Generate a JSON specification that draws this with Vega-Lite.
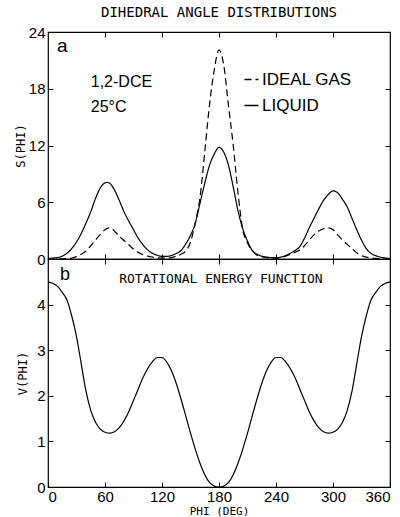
{
  "$schema": "https://vega.github.io/schema/vega-lite/v6.json",
  "padding": {"left": 13, "top": 5, "right": 10, "bottom": 0},
  "spacing": 0,
  "bounds": "flush",
  "background": "white",
  "config": {
    "view": {"stroke": "black", "strokeWidth": 1.2},
    "axis": {"domain": false, "grid": false, "tickColor": "black", "tickSize": -5, "tickWidth": 1, "labelColor": "black", "labelFont": "Liberation Sans", "labelFontSize": 15, "labelPadding": 8, "titleColor": "black", "titleFont": "DejaVu Sans Mono", "titleFontSize": 12, "titleFontWeight": "normal"},
    "text": {"color": "black"}
  },
  "datasets": {
    "s": [
      {"phi": 0, "S": 0.05, "series": "LIQUID"}, {"phi": 5, "S": 0.1, "series": "LIQUID"}, {"phi": 10, "S": 0.15, "series": "LIQUID"}, {"phi": 15, "S": 0.3, "series": "LIQUID"}, {"phi": 20, "S": 0.6, "series": "LIQUID"}, {"phi": 25, "S": 1.1, "series": "LIQUID"}, {"phi": 30, "S": 1.8, "series": "LIQUID"}, {"phi": 35, "S": 2.7, "series": "LIQUID"}, {"phi": 40, "S": 3.8, "series": "LIQUID"}, {"phi": 45, "S": 5.0, "series": "LIQUID"}, {"phi": 50, "S": 6.4, "series": "LIQUID"}, {"phi": 55, "S": 7.5, "series": "LIQUID"}, {"phi": 60, "S": 8.05, "series": "LIQUID"}, {"phi": 62, "S": 8.1, "series": "LIQUID"}, {"phi": 65, "S": 8.0, "series": "LIQUID"}, {"phi": 70, "S": 7.3, "series": "LIQUID"}, {"phi": 75, "S": 6.2, "series": "LIQUID"}, {"phi": 80, "S": 5.0, "series": "LIQUID"}, {"phi": 85, "S": 4.0, "series": "LIQUID"}, {"phi": 90, "S": 3.1, "series": "LIQUID"}, {"phi": 95, "S": 2.2, "series": "LIQUID"}, {"phi": 100, "S": 1.5, "series": "LIQUID"}, {"phi": 105, "S": 0.95, "series": "LIQUID"}, {"phi": 110, "S": 0.6, "series": "LIQUID"}, {"phi": 115, "S": 0.4, "series": "LIQUID"}, {"phi": 120, "S": 0.28, "series": "LIQUID"}, {"phi": 125, "S": 0.28, "series": "LIQUID"}, {"phi": 130, "S": 0.38, "series": "LIQUID"}, {"phi": 135, "S": 0.58, "series": "LIQUID"}, {"phi": 140, "S": 0.9, "series": "LIQUID"}, {"phi": 145, "S": 1.6, "series": "LIQUID"}, {"phi": 150, "S": 2.5, "series": "LIQUID"}, {"phi": 155, "S": 3.8, "series": "LIQUID"}, {"phi": 160, "S": 5.9, "series": "LIQUID"}, {"phi": 165, "S": 8.0, "series": "LIQUID"}, {"phi": 170, "S": 9.9, "series": "LIQUID"}, {"phi": 175, "S": 11.1, "series": "LIQUID"}, {"phi": 180, "S": 11.8, "series": "LIQUID"}, {"phi": 185, "S": 11.3, "series": "LIQUID"}, {"phi": 190, "S": 9.9, "series": "LIQUID"}, {"phi": 195, "S": 7.6, "series": "LIQUID"}, {"phi": 200, "S": 5.1, "series": "LIQUID"}, {"phi": 205, "S": 3.2, "series": "LIQUID"}, {"phi": 210, "S": 1.9, "series": "LIQUID"}, {"phi": 215, "S": 0.9, "series": "LIQUID"}, {"phi": 220, "S": 0.5, "series": "LIQUID"}, {"phi": 225, "S": 0.3, "series": "LIQUID"}, {"phi": 230, "S": 0.2, "series": "LIQUID"}, {"phi": 235, "S": 0.15, "series": "LIQUID"}, {"phi": 240, "S": 0.12, "series": "LIQUID"}, {"phi": 245, "S": 0.2, "series": "LIQUID"}, {"phi": 250, "S": 0.35, "series": "LIQUID"}, {"phi": 255, "S": 0.6, "series": "LIQUID"}, {"phi": 260, "S": 0.9, "series": "LIQUID"}, {"phi": 265, "S": 1.3, "series": "LIQUID"}, {"phi": 270, "S": 2.2, "series": "LIQUID"}, {"phi": 275, "S": 3.3, "series": "LIQUID"}, {"phi": 280, "S": 4.3, "series": "LIQUID"}, {"phi": 285, "S": 5.3, "series": "LIQUID"}, {"phi": 290, "S": 6.2, "series": "LIQUID"}, {"phi": 295, "S": 6.8, "series": "LIQUID"}, {"phi": 300, "S": 7.2, "series": "LIQUID"}, {"phi": 305, "S": 7.0, "series": "LIQUID"}, {"phi": 310, "S": 6.3, "series": "LIQUID"}, {"phi": 315, "S": 5.5, "series": "LIQUID"}, {"phi": 320, "S": 4.3, "series": "LIQUID"}, {"phi": 325, "S": 3.1, "series": "LIQUID"}, {"phi": 330, "S": 2.0, "series": "LIQUID"}, {"phi": 335, "S": 1.1, "series": "LIQUID"}, {"phi": 340, "S": 0.6, "series": "LIQUID"}, {"phi": 345, "S": 0.35, "series": "LIQUID"}, {"phi": 350, "S": 0.2, "series": "LIQUID"}, {"phi": 355, "S": 0.1, "series": "LIQUID"}, {"phi": 360, "S": 0.05, "series": "LIQUID"},
      {"phi": 0, "S": 0, "series": "IDEAL GAS"}, {"phi": 10, "S": 0, "series": "IDEAL GAS"}, {"phi": 20, "S": 0.05, "series": "IDEAL GAS"}, {"phi": 25, "S": 0.1, "series": "IDEAL GAS"}, {"phi": 30, "S": 0.25, "series": "IDEAL GAS"}, {"phi": 35, "S": 0.5, "series": "IDEAL GAS"}, {"phi": 40, "S": 0.85, "series": "IDEAL GAS"}, {"phi": 45, "S": 1.4, "series": "IDEAL GAS"}, {"phi": 50, "S": 2.0, "series": "IDEAL GAS"}, {"phi": 55, "S": 2.6, "series": "IDEAL GAS"}, {"phi": 60, "S": 3.1, "series": "IDEAL GAS"}, {"phi": 64, "S": 3.3, "series": "IDEAL GAS"}, {"phi": 67, "S": 3.25, "series": "IDEAL GAS"}, {"phi": 70, "S": 2.95, "series": "IDEAL GAS"}, {"phi": 75, "S": 2.4, "series": "IDEAL GAS"}, {"phi": 80, "S": 1.95, "series": "IDEAL GAS"}, {"phi": 85, "S": 1.5, "series": "IDEAL GAS"}, {"phi": 90, "S": 1.05, "series": "IDEAL GAS"}, {"phi": 95, "S": 0.7, "series": "IDEAL GAS"}, {"phi": 100, "S": 0.45, "series": "IDEAL GAS"}, {"phi": 105, "S": 0.3, "series": "IDEAL GAS"}, {"phi": 110, "S": 0.2, "series": "IDEAL GAS"}, {"phi": 115, "S": 0.12, "series": "IDEAL GAS"}, {"phi": 120, "S": 0.1, "series": "IDEAL GAS"}, {"phi": 125, "S": 0.1, "series": "IDEAL GAS"}, {"phi": 130, "S": 0.15, "series": "IDEAL GAS"}, {"phi": 135, "S": 0.3, "series": "IDEAL GAS"}, {"phi": 140, "S": 0.5, "series": "IDEAL GAS"}, {"phi": 145, "S": 0.85, "series": "IDEAL GAS"}, {"phi": 150, "S": 1.8, "series": "IDEAL GAS"}, {"phi": 155, "S": 3.8, "series": "IDEAL GAS"}, {"phi": 160, "S": 6.5, "series": "IDEAL GAS"}, {"phi": 165, "S": 11.3, "series": "IDEAL GAS"}, {"phi": 170, "S": 16.3, "series": "IDEAL GAS"}, {"phi": 175, "S": 20.0, "series": "IDEAL GAS"}, {"phi": 180, "S": 22.1, "series": "IDEAL GAS"}, {"phi": 185, "S": 20.5, "series": "IDEAL GAS"}, {"phi": 190, "S": 16.2, "series": "IDEAL GAS"}, {"phi": 195, "S": 12.0, "series": "IDEAL GAS"}, {"phi": 200, "S": 7.0, "series": "IDEAL GAS"}, {"phi": 205, "S": 3.1, "series": "IDEAL GAS"}, {"phi": 210, "S": 1.7, "series": "IDEAL GAS"}, {"phi": 215, "S": 0.9, "series": "IDEAL GAS"}, {"phi": 220, "S": 0.4, "series": "IDEAL GAS"}, {"phi": 225, "S": 0.25, "series": "IDEAL GAS"}, {"phi": 230, "S": 0.15, "series": "IDEAL GAS"}, {"phi": 235, "S": 0.1, "series": "IDEAL GAS"}, {"phi": 240, "S": 0.1, "series": "IDEAL GAS"}, {"phi": 245, "S": 0.15, "series": "IDEAL GAS"}, {"phi": 250, "S": 0.3, "series": "IDEAL GAS"}, {"phi": 255, "S": 0.5, "series": "IDEAL GAS"}, {"phi": 260, "S": 0.7, "series": "IDEAL GAS"}, {"phi": 265, "S": 0.95, "series": "IDEAL GAS"}, {"phi": 270, "S": 1.4, "series": "IDEAL GAS"}, {"phi": 275, "S": 2.0, "series": "IDEAL GAS"}, {"phi": 280, "S": 2.55, "series": "IDEAL GAS"}, {"phi": 285, "S": 2.95, "series": "IDEAL GAS"}, {"phi": 290, "S": 3.2, "series": "IDEAL GAS"}, {"phi": 295, "S": 3.3, "series": "IDEAL GAS"}, {"phi": 300, "S": 3.1, "series": "IDEAL GAS"}, {"phi": 305, "S": 2.55, "series": "IDEAL GAS"}, {"phi": 310, "S": 2.0, "series": "IDEAL GAS"}, {"phi": 315, "S": 1.55, "series": "IDEAL GAS"}, {"phi": 320, "S": 1.1, "series": "IDEAL GAS"}, {"phi": 325, "S": 0.65, "series": "IDEAL GAS"}, {"phi": 330, "S": 0.35, "series": "IDEAL GAS"}, {"phi": 335, "S": 0.2, "series": "IDEAL GAS"}, {"phi": 340, "S": 0.12, "series": "IDEAL GAS"}, {"phi": 345, "S": 0.06, "series": "IDEAL GAS"}, {"phi": 350, "S": 0.03, "series": "IDEAL GAS"}, {"phi": 355, "S": 0.01, "series": "IDEAL GAS"}, {"phi": 360, "S": 0, "series": "IDEAL GAS"}
    ],
    "v": [
      {"phi": 0, "V": 4.5}, {"phi": 5, "V": 4.47}, {"phi": 10, "V": 4.4}, {"phi": 15, "V": 4.27}, {"phi": 20, "V": 4.1}, {"phi": 25, "V": 3.75}, {"phi": 30, "V": 3.3}, {"phi": 35, "V": 2.7}, {"phi": 40, "V": 2.1}, {"phi": 45, "V": 1.68}, {"phi": 50, "V": 1.42}, {"phi": 55, "V": 1.27}, {"phi": 60, "V": 1.2}, {"phi": 65, "V": 1.18}, {"phi": 70, "V": 1.21}, {"phi": 75, "V": 1.3}, {"phi": 80, "V": 1.45}, {"phi": 85, "V": 1.65}, {"phi": 90, "V": 1.9}, {"phi": 95, "V": 2.15}, {"phi": 100, "V": 2.4}, {"phi": 105, "V": 2.6}, {"phi": 110, "V": 2.75}, {"phi": 115, "V": 2.84}, {"phi": 120, "V": 2.84}, {"phi": 125, "V": 2.74}, {"phi": 130, "V": 2.55}, {"phi": 135, "V": 2.27}, {"phi": 140, "V": 1.93}, {"phi": 145, "V": 1.56}, {"phi": 150, "V": 1.18}, {"phi": 155, "V": 0.83}, {"phi": 160, "V": 0.52}, {"phi": 165, "V": 0.27}, {"phi": 170, "V": 0.1}, {"phi": 175, "V": 0.02}, {"phi": 180, "V": 0},
      {"phi": 185, "V": 0.02}, {"phi": 190, "V": 0.1}, {"phi": 195, "V": 0.27}, {"phi": 200, "V": 0.52}, {"phi": 205, "V": 0.83}, {"phi": 210, "V": 1.18}, {"phi": 215, "V": 1.56}, {"phi": 220, "V": 1.93}, {"phi": 225, "V": 2.27}, {"phi": 230, "V": 2.55}, {"phi": 235, "V": 2.74}, {"phi": 240, "V": 2.84}, {"phi": 245, "V": 2.84}, {"phi": 250, "V": 2.75}, {"phi": 255, "V": 2.6}, {"phi": 260, "V": 2.4}, {"phi": 265, "V": 2.15}, {"phi": 270, "V": 1.9}, {"phi": 275, "V": 1.65}, {"phi": 280, "V": 1.45}, {"phi": 285, "V": 1.3}, {"phi": 290, "V": 1.21}, {"phi": 295, "V": 1.18}, {"phi": 300, "V": 1.2}, {"phi": 305, "V": 1.27}, {"phi": 310, "V": 1.42}, {"phi": 315, "V": 1.68}, {"phi": 320, "V": 2.1}, {"phi": 325, "V": 2.7}, {"phi": 330, "V": 3.3}, {"phi": 335, "V": 3.75}, {"phi": 340, "V": 4.1}, {"phi": 345, "V": 4.27}, {"phi": 350, "V": 4.4}, {"phi": 355, "V": 4.47}, {"phi": 360, "V": 4.5}
    ]
  },
  "vconcat": [
    {
      "width": 342,
      "height": 227,
      "title": {"text": "DIHEDRAL ANGLE DISTRIBUTIONS", "font": "DejaVu Sans Mono", "fontSize": 14, "fontWeight": "normal", "color": "black", "anchor": "middle", "offset": 5},
      "layer": [
        {
          "data": {"name": "s"},
          "mark": {"type": "line", "color": "black", "strokeWidth": 1.2, "interpolate": "monotone"},
          "encoding": {
            "x": {"field": "phi", "type": "quantitative", "scale": {"domain": [0, 360], "nice": false}, "axis": {"orient": "bottom", "values": [60, 120, 180, 240, 300], "labels": false, "title": null, "minExtent": 0, "maxExtent": 0}},
            "y": {"field": "S", "type": "quantitative", "scale": {"domain": [0, 24], "nice": false}, "axis": {"orient": "left", "values": [0, 6, 12, 18, 24], "title": "S(PHI)", "titleX": -28, "titleAngle": -90, "titleAlign": "center", "titleBaseline": "middle"}},
            "strokeDash": {"field": "series", "type": "nominal", "scale": {"domain": ["IDEAL GAS", "LIQUID"], "range": [[7, 4], [1, 0]]},
              "legend": {"orient": "none", "legendX": 195, "legendY": 39, "title": null, "symbolType": "stroke", "symbolSize": 196, "symbolStrokeWidth": 1.3, "symbolStrokeColor": "black", "labelFont": "Liberation Sans", "labelFontSize": 17, "labelColor": "black", "labelOffset": 2, "rowPadding": 8}}
          }
        },
        {
          "data": {"values": [{}]},
          "mark": {"type": "text", "text": "a", "font": "Liberation Sans", "fontSize": 19, "align": "left", "baseline": "alphabetic"},
          "encoding": {
            "x": {"datum": 9.5, "type": "quantitative", "axis": {"orient": "top", "values": [60, 120, 180, 240, 300], "labels": false, "title": null, "minExtent": 0, "maxExtent": 0}},
            "y": {"datum": 21.9, "type": "quantitative", "axis": {"orient": "right", "values": [6, 12, 18], "labels": false, "title": null, "minExtent": 0, "maxExtent": 0}}
          }
        },
        {
          "data": {"values": [{}]},
          "mark": {"type": "text", "text": "1,2-DCE", "font": "Liberation Sans", "fontSize": 16, "align": "left", "baseline": "alphabetic"},
          "encoding": {
            "x": {"datum": 45, "type": "quantitative", "axis": null},
            "y": {"datum": 18.2, "type": "quantitative", "axis": null}
          }
        },
        {
          "data": {"values": [{}]},
          "mark": {"type": "text", "text": "25°C", "font": "Liberation Sans", "fontSize": 16, "align": "left", "baseline": "alphabetic"},
          "encoding": {
            "x": {"datum": 45, "type": "quantitative", "axis": null},
            "y": {"datum": 15.5, "type": "quantitative", "axis": null}
          }
        }
      ],
      "resolve": {"axis": {"x": "independent", "y": "independent"}}
    },
    {
      "width": 342,
      "height": 228,
      "layer": [
        {
          "data": {"name": "v"},
          "mark": {"type": "line", "color": "black", "strokeWidth": 1.2, "interpolate": "monotone"},
          "encoding": {
            "x": {"field": "phi", "type": "quantitative", "scale": {"domain": [0, 360], "nice": false}, "axis": {"orient": "bottom", "values": [0, 60, 120, 180, 240, 300, 360], "title": "PHI (DEG)", "labelPadding": 7, "titleY": 27, "titleBaseline": "alphabetic", "titleFontSize": 11}},
            "y": {"field": "V", "type": "quantitative", "scale": {"domain": [0, 5], "nice": false}, "axis": {"orient": "left", "values": [0, 1, 2, 3, 4], "title": "V(PHI)", "titleX": -26, "titleAngle": -90, "titleAlign": "center", "titleBaseline": "middle"}}
          }
        },
        {
          "data": {"values": [{}]},
          "mark": {"type": "text", "text": "b", "font": "Liberation Sans", "fontSize": 18, "align": "left", "baseline": "alphabetic"},
          "encoding": {
            "x": {"datum": 12.6, "type": "quantitative", "axis": {"orient": "top", "values": [60, 120, 180, 240, 300], "labels": false, "title": null, "minExtent": 0, "maxExtent": 0}},
            "y": {"datum": 4.54, "type": "quantitative", "axis": {"orient": "right", "values": [1, 2, 3, 4], "labels": false, "title": null, "minExtent": 0, "maxExtent": 0}}
          }
        },
        {
          "data": {"values": [{}]},
          "mark": {"type": "text", "text": "ROTATIONAL ENERGY FUNCTION", "font": "DejaVu Sans Mono", "fontSize": 13, "align": "center", "baseline": "alphabetic"},
          "encoding": {
            "x": {"datum": 182, "type": "quantitative", "axis": null},
            "y": {"datum": 4.47, "type": "quantitative", "axis": null}
          }
        }
      ],
      "resolve": {"axis": {"x": "independent", "y": "independent"}}
    }
  ]
}
